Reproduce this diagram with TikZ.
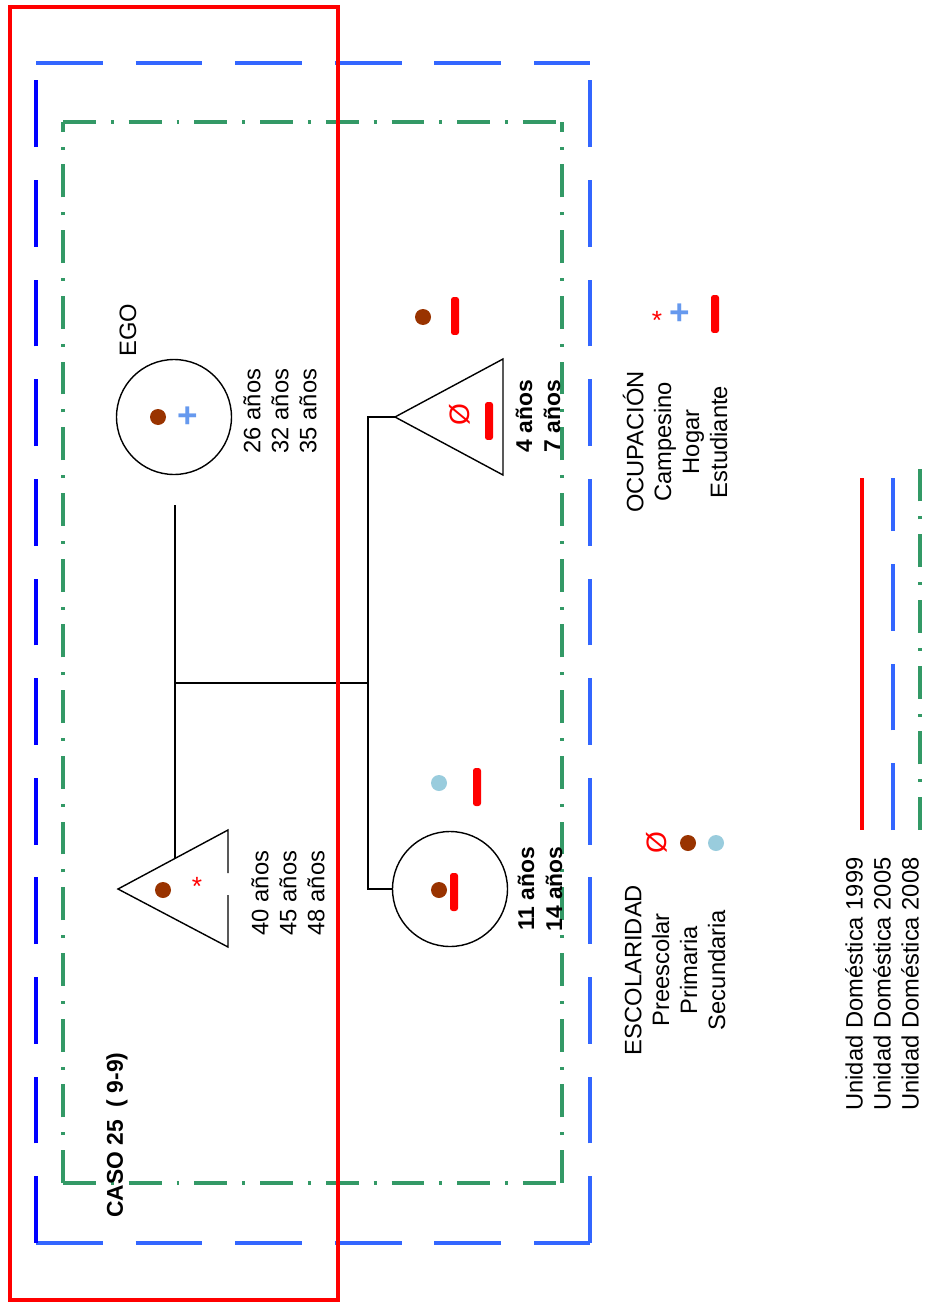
\documentclass[tikz,border=0pt]{standalone}
\usepackage{fontspec}
\setmainfont{Liberation Sans}
\usetikzlibrary{positioning}
\definecolor{udred}{RGB}{255,0,0}
\definecolor{udblue}{RGB}{51,102,255}
\definecolor{udnavy}{RGB}{0,0,255}
\definecolor{udgreen}{RGB}{51,153,102}
\definecolor{dotbrown}{RGB}{153,51,0}
\definecolor{dotsky}{RGB}{153,204,221}
\definecolor{plusblue}{RGB}{102,153,238}

\begin{document}
\begin{tikzpicture}[x=0.02cm, y=-0.02cm,
    txt/.style={rotate=90, align=center, inner sep=0pt, font=\fontsize{13.5}{15.9}\selectfont},
    boldtxt/.style={txt, font=\fontsize{13}{15.9}\selectfont\bfseries},
    person/.style={draw, circle, line width=0.8pt, inner sep=0pt, minimum size=2.3cm},
    pdot/.style={circle, inner sep=0pt, minimum size=0.32cm},
    rbar/.style={fill=udred, rounded corners=1.5pt, inner sep=0pt, minimum width=0.16cm, minimum height=0.76cm},
    plussign/.style={text=plusblue, inner sep=0pt, font=\fontsize{20}{20}\selectfont\bfseries},
    asterisk/.style={text=udred, inner sep=0pt, font=\fontsize{15}{15}\selectfont},
    zerosign/.style={text=udred, rotate=90, inner sep=0pt, font=\fontsize{16}{16}\selectfont},
    reddline/.style={udred, line width=2.3pt},
    bluedline/.style={udblue, line width=1.8pt, dash pattern=on 38pt off 18.7pt},
    greendline/.style={udgreen, line width=1.8pt, dash pattern=on 18.7pt off 8.5pt on 1.7pt off 8.5pt},
    link/.style={line width=0.6pt}]
    \useasboundingbox (0,0) rectangle (924,1304);

    % unidades domesticas
    \draw[bluedline] (36,1243) -- (590,1243);
    \draw[bluedline] (590,1243) -- (590,63);
    \draw[bluedline] (36,63) -- (590,63);
    \draw[bluedline, udnavy] (36,1243) -- (36,63);
    \draw[greendline] (63,1183) -- (562,1183);
    \draw[greendline] (562,1183) -- (562,122);
    \draw[greendline] (63,122) -- (562,122);
    \draw[greendline] (63,1183) -- (63,122);

    % ego
    \node[person] (ego) at (174,417) {};
    \node[pdot, fill=dotbrown] (egoprim) at (158,417) {};
    \node[plussign] (egohogar) at (188,417) {+};
    \node[txt] (egolbl) at (128,330) {EGO};
    \node[txt] (egoage) at (280,411) {26 años\\32 años\\35 años};

    % esposo
    \coordinate (fapex) at (118,889);
    \coordinate (ftop) at (228,830);
    \coordinate (fbot) at (228,947);
    \draw[line width=0.8pt] (228,873) -- (ftop) -- (fapex) -- (fbot) -- (228,895);
    \node[pdot, fill=dotbrown] (fatherprim) at (163,890) {};
    \node[asterisk] (fathercamp) at (197,886) {*};
    \node[txt] (fatherage) at (288,893) {40 años\\45 años\\48 años};

    % hijo
    \coordinate (sapex) at (395,417);
    \coordinate (stop) at (503,359);
    \coordinate (sbot) at (503,475);
    \draw[line width=0.8pt] (sapex) -- (stop) -- (sbot) -- cycle;
    \node[zerosign] (sonpre) at (460,415) {Ø};
    \node[rbar] (sonest) at (489,421) {};
    \node[pdot, fill=dotbrown] (sonprim) at (423,317) {};
    \node[rbar] (sonest2) at (455,316) {};
    \node[boldtxt] (sonage) at (538,416) {4 años\\7 años};

    % hija
    \node[person] (daughter) at (450,889) {};
    \node[pdot, fill=dotbrown] (daughterprim) at (439,890) {};
    \node[rbar] (daughterest) at (454,892) {};
    \node[pdot, fill=dotsky] (daughtersec) at (439,783) {};
    \node[rbar] (daughterest2) at (477,787) {};
    \node[boldtxt] (daughterage) at (540,889) {11 años\\14 años};

    % parentesco
    \coordinate (egodrop) at (175,505);
    \coordinate (fatherjoin) at (175,858);
    \coordinate (couple) at (175,683);
    \coordinate (sibtop) at (368,417);
    \coordinate (sibmid) at (368,683);
    \coordinate (sibbot) at (368,889);
    \draw[link] (egodrop) -- (fatherjoin);
    \draw[link] (couple) -- (sibmid);
    \draw[link] (sapex) -- (sibtop) -- (sibbot) -- (daughter.west);

    \node[boldtxt] (caso) at (117,1135) {CASO 25~~( 9-9)};

    % leyendas
    \node[txt] (scolhead) at (675,970) {ESCOLARIDAD\\Preescolar\\Primaria\\Secundaria};
    \node[zerosign] (keypre) at (657,843) {Ø};
    \node[pdot, fill=dotbrown] (keyprim) at (688,843) {};
    \node[pdot, fill=dotsky] (keysec) at (716,843) {};

    \node[txt] (occhead) at (675,442) {OCUPACIÓN\\Campesino\\Hogar\\Estudiante};
    \node[asterisk] (keycamp) at (657,320) {*};
    \node[plussign] (keyhogar) at (680,314) {+};
    \node[rbar] (keyest) at (715,314) {};

    \node[txt] (unitlbl) at (882,984) {Unidad Doméstica 1999\\Unidad Doméstica 2005\\Unidad Doméstica 2008};
    \coordinate (k99a) at (862,478);
    \coordinate (k99b) at (862,830);
    \coordinate (k05a) at (893,478);
    \coordinate (k05b) at (893,830);
    \coordinate (k08a) at (920,465);
    \coordinate (k08b) at (920,830);
    \draw[reddline, line width=1.8pt] (k99a) -- (k99b);
    \draw[bluedline] (k05b) -- (k05a);
    \draw[greendline] (k08b) -- (k08a);

    \draw[reddline] (10,7) rectangle (338,1300);
\end{tikzpicture}
\end{document}
